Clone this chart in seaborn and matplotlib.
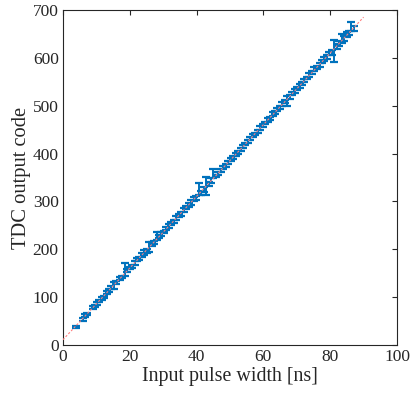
import numpy as np
import pandas as pd
import matplotlib
matplotlib.use("Agg")
import matplotlib.pyplot as plt
import seaborn as sns

# Measured points: input pulse width [ns] vs mean TDC code and its spread
pulse_ns = [3.8, 5.9, 6.6, 7.3, 8.9, 9.5, 10.2, 10.8, 11.6, 12.3, 13.1, 13.7, 14.5, 15.2,
            16.0, 17.1, 17.8, 18.5, 19.3, 20.0, 20.7, 21.5, 22.3, 22.9, 23.6, 24.4, 25.1,
            25.8, 26.6, 27.3, 28.1, 28.8, 29.5, 30.3, 31.0, 31.8, 32.5, 33.2, 34.0, 34.7,
            35.4, 36.2, 36.9, 37.7, 38.4, 39.1, 39.9, 40.6, 41.4, 42.1, 42.8, 43.6, 44.3,
            45.0, 45.8, 46.5, 47.3, 48.0, 48.7, 49.5, 50.2, 50.9, 51.7, 52.4, 53.2, 53.9,
            54.6, 55.4, 56.1, 56.8, 57.6, 58.3, 59.1, 59.8, 60.5, 61.3, 62.0, 62.8, 63.5,
            64.2, 65.0, 65.7, 66.4, 67.2, 67.9, 68.7, 69.4, 70.1, 70.9, 71.6, 72.3, 73.1,
            73.8, 74.6, 75.3, 76.0, 76.8, 77.5, 78.2, 79.0, 79.7, 80.5, 81.2, 81.9, 82.7,
            83.4, 84.1, 84.9, 85.6, 86.3, 87.0]
code_mean = [38, 54, 61, 65, 78, 81, 86, 92, 98, 101, 110, 113, 120, 124,
             131, 139, 142, 158, 155, 161, 164, 172, 178, 180, 188, 194, 197,
             205, 211, 214, 228, 226, 232, 236, 243, 249, 254, 258, 266, 271,
             274, 282, 288, 292, 298, 305, 308, 326, 318, 325, 332, 336, 343,
             358, 353, 359, 364, 371, 375, 381, 387, 392, 398, 403, 409, 414,
             420, 425, 431, 437, 441, 447, 454, 458, 464, 470, 474, 482, 486,
             492, 497, 503, 508, 510, 519, 526, 530, 536, 542, 546, 553, 558,
             564, 569, 576, 580, 585, 592, 597, 601, 609, 612, 614, 624, 630,
             640, 640, 648, 652, 665, 662]
code_err = [2, 3, 3, 2, 3, 2, 3, 3, 3, 2, 3, 3, 4, 7,
            3, 3, 3, 14, 3, 3, 3, 4, 3, 3, 4, 5, 4,
            10, 4, 3, 8, 3, 4, 3, 3, 4, 3, 4, 4, 3,
            4, 4, 3, 4, 5, 4, 4, 13, 4, 5, 19, 4, 5,
            9, 3, 3, 3, 3, 3, 3, 3, 3, 3, 3, 3, 3,
            3, 3, 3, 3, 3, 3, 4, 3, 3, 4, 3, 4, 3,
            4, 3, 4, 3, 11, 4, 3, 4, 3, 4, 3, 3, 3,
            4, 3, 4, 3, 4, 3, 4, 4, 4, 5, 23, 5, 5,
            10, 5, 5, 5, 9, 5]

BLUE = '#0072BD'
FIT_COLOR = '#FF7F7F'

sns.set_theme(style="white")
plt.rcParams['font.family'] = ['Liberation Serif', 'DejaVu Serif']
plt.rcParams['mathtext.fontset'] = 'stix'

df = pd.DataFrame({'width': pulse_ns, 'code': code_mean, 'err': code_err})

# linear fit through the measured means
slope, offset = np.polyfit(df['width'], df['code'], 1)
fit_x = np.array([0.0, 90.0])
fit_df = pd.DataFrame({'width': fit_x, 'code': slope * fit_x + offset})

fig = plt.figure(figsize=(4.11, 4.0), dpi=100)
ax = fig.add_axes([0.153, 0.1375, 0.813, 0.8375])

ax.errorbar(df['width'], df['code'], yerr=df['err'], fmt='none', ecolor=BLUE,
            elinewidth=1.4, capsize=2.9, capthick=1.6, zorder=2)
sns.lineplot(data=fit_df, x='width', y='code', ax=ax, color=FIT_COLOR,
             linestyle=(0, (2.0, 1.6)), linewidth=0.8, zorder=3)

ax.set_xlim(0, 100)
ax.set_ylim(0, 700)
ax.set_xticks(np.arange(0, 101, 20))
ax.set_yticks(np.arange(0, 701, 100))
ax.tick_params(direction='in', top=True, right=True, length=3.5, width=0.8,
               labelsize=12.5, colors='#262626', pad=3)
for s in ax.spines.values():
    s.set_color('#262626')
    s.set_linewidth(0.8)

ax.set_xlabel('Input pulse width [ns]', fontsize=14.4, color='#262626', labelpad=1)
ax.set_ylabel('TDC output code', fontsize=14.8, color='#262626', labelpad=1)

fig.savefig('out.png', dpi=100)
